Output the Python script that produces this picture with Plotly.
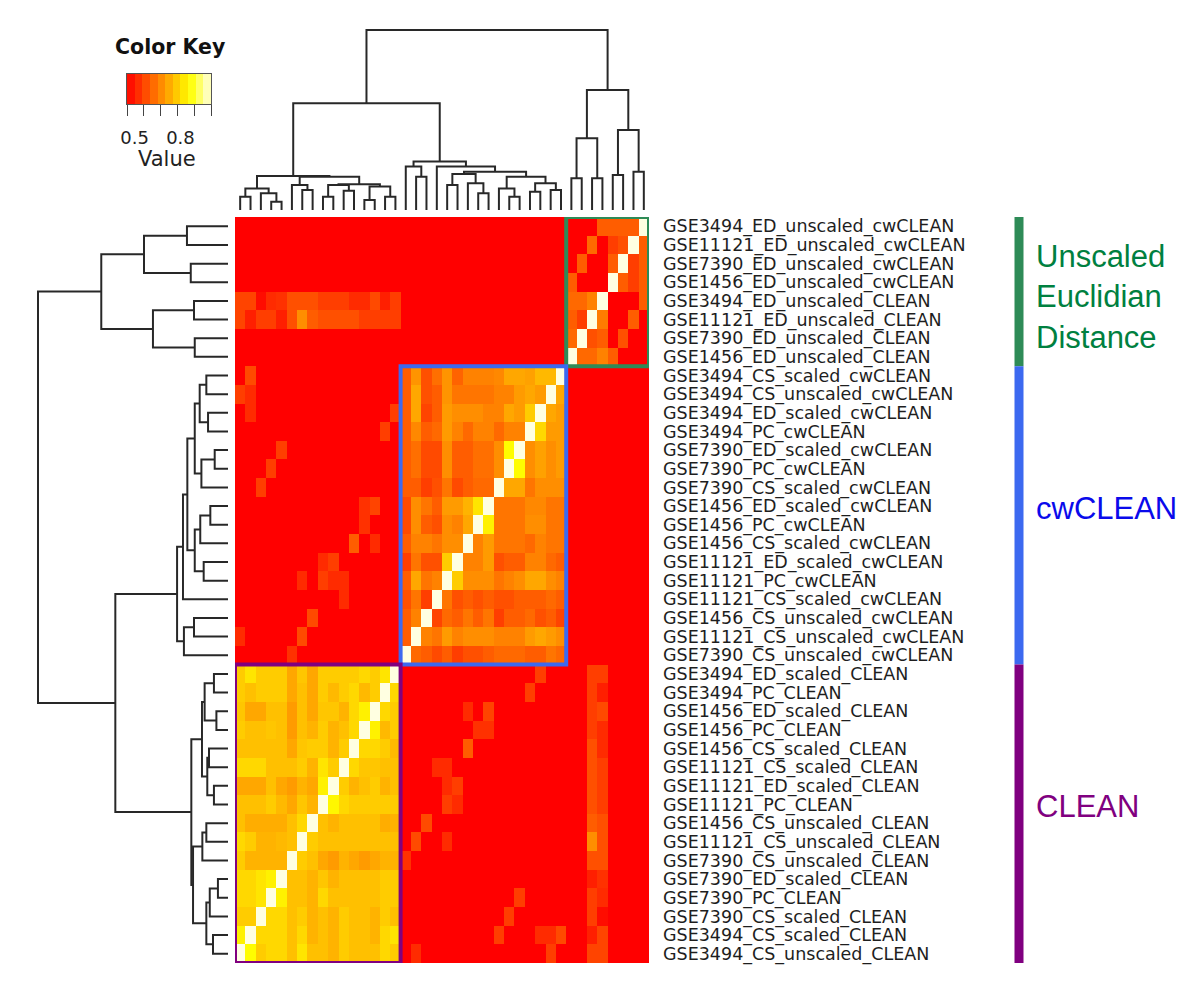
import plotly.graph_objects as go

# ---------------- data ----------------
ROW_LABELS = [
    "GSE3494_ED_unscaled_cwCLEAN", "GSE11121_ED_unscaled_cwCLEAN", "GSE7390_ED_unscaled_cwCLEAN",
    "GSE1456_ED_unscaled_cwCLEAN", "GSE3494_ED_unscaled_CLEAN", "GSE11121_ED_unscaled_CLEAN",
    "GSE7390_ED_unscaled_CLEAN", "GSE1456_ED_unscaled_CLEAN", "GSE3494_CS_scaled_cwCLEAN",
    "GSE3494_CS_unscaled_cwCLEAN", "GSE3494_ED_scaled_cwCLEAN", "GSE3494_PC_cwCLEAN",
    "GSE7390_ED_scaled_cwCLEAN", "GSE7390_PC_cwCLEAN", "GSE7390_CS_scaled_cwCLEAN",
    "GSE1456_ED_scaled_cwCLEAN", "GSE1456_PC_cwCLEAN", "GSE1456_CS_scaled_cwCLEAN",
    "GSE11121_ED_scaled_cwCLEAN", "GSE11121_PC_cwCLEAN", "GSE11121_CS_scaled_cwCLEAN",
    "GSE1456_CS_unscaled_cwCLEAN", "GSE11121_CS_unscaled_cwCLEAN", "GSE7390_CS_unscaled_cwCLEAN",
    "GSE3494_ED_scaled_CLEAN", "GSE3494_PC_CLEAN", "GSE1456_ED_scaled_CLEAN", "GSE1456_PC_CLEAN",
    "GSE1456_CS_scaled_CLEAN", "GSE11121_CS_scaled_CLEAN", "GSE11121_ED_scaled_CLEAN",
    "GSE11121_PC_CLEAN", "GSE1456_CS_unscaled_CLEAN", "GSE11121_CS_unscaled_CLEAN",
    "GSE7390_CS_unscaled_CLEAN", "GSE7390_ED_scaled_CLEAN", "GSE7390_PC_CLEAN",
    "GSE7390_CS_scaled_CLEAN", "GSE3494_CS_scaled_CLEAN", "GSE3494_CS_unscaled_CLEAN",
]

# groups of rows (top to bottom)
GROUP_NAMES = ["Unscaled<br>Euclidian<br>Distance", "cwCLEAN", "CLEAN"]
GROUP_START = [0, 8, 24]
GROUP_SIZE = [8, 16, 16]
GROUP_BAR_COLORS = ["rgb(46,139,87)", "rgb(60,105,240)", "rgb(128,0,128)"]
GROUP_TEXT_COLORS = ["rgb(0,128,64)", "rgb(10,10,235)", "rgb(128,0,128)"]
GROUP_TEXT_SHIFT = [-5, 7, 7]

# correlation values, rows top->bottom (ROW_LABELS order), columns left->right (reverse order)
Z = [
 [.45,.45,.45,.45,.45,.45,.45,.45, .45,.45,.45,.45,.45,.45,.45,.45, .45,.45,.45,.45,.45,.45,.45,.45, .45,.45,.45,.45,.45,.45,.45,.45, .45,.45,.45,.60,.60,.60,.60,1.0],
 [.45,.45,.45,.45,.45,.45,.45,.45, .45,.45,.45,.45,.45,.45,.45,.45, .45,.45,.45,.45,.45,.45,.45,.45, .45,.45,.45,.45,.45,.45,.45,.45, .45,.45,.62,.45,.55,.58,1.0,.60],
 [.45,.45,.45,.45,.45,.45,.45,.45, .45,.45,.45,.45,.45,.45,.45,.45, .45,.45,.45,.45,.45,.45,.45,.45, .45,.45,.45,.45,.45,.45,.45,.45, .45,.60,.45,.45,.60,1.0,.55,.60],
 [.45,.45,.45,.45,.45,.45,.45,.45, .45,.45,.45,.45,.45,.45,.45,.45, .45,.45,.45,.45,.45,.45,.45,.45, .45,.45,.45,.45,.45,.45,.45,.45, .60,.45,.45,.45,1.0,.60,.55,.60],
 [.56,.56,.47,.52,.53,.58,.58,.58, .55,.55,.55,.52,.52,.57,.50,.55, .45,.45,.45,.45,.45,.45,.45,.45, .45,.45,.45,.45,.45,.45,.45,.45, .62,.62,.66,1.0,.45,.45,.45,.60],
 [.56,.50,.55,.55,.50,.58,.68,.60, .58,.58,.58,.58,.55,.55,.55,.55, .45,.45,.45,.45,.45,.45,.45,.45, .45,.45,.45,.45,.45,.45,.45,.45, .60,.55,1.0,.65,.45,.45,.60,.45],
 [.45,.45,.45,.45,.45,.45,.45,.45, .45,.45,.45,.45,.45,.45,.45,.45, .45,.45,.45,.45,.45,.45,.45,.45, .45,.45,.45,.45,.45,.45,.45,.45, .62,1.0,.58,.60,.45,.58,.45,.45],
 [.45,.45,.45,.45,.45,.45,.45,.45, .45,.45,.45,.45,.45,.45,.45,.45, .45,.45,.45,.45,.45,.45,.45,.45, .45,.45,.45,.45,.45,.45,.45,.45, 1.0,.62,.62,.66,.60,.45,.45,.45],
 [.45,.57,.45,.45,.45,.45,.45,.45, .45,.45,.45,.45,.45,.45,.45,.45, .60,.69,.58,.63,.69,.61,.66,.66, .66,.67,.72,.72,.71,.75,.75,1.0, .45,.45,.45,.45,.45,.45,.45,.45],
 [.55,.52,.45,.45,.45,.45,.45,.45, .45,.45,.45,.45,.45,.45,.45,.45, .60,.72,.58,.60,.69,.64,.64,.64, .64,.66,.66,.70,.72,.70,1.0,.72, .45,.45,.45,.45,.45,.45,.45,.45],
 [.45,.52,.45,.45,.45,.45,.45,.45, .45,.45,.45,.45,.45,.45,.45,.55, .60,.72,.56,.60,.70,.68,.68,.68, .66,.66,.72,.70,.78,1.0,.72,.70, .45,.45,.45,.45,.45,.45,.45,.45],
 [.45,.45,.45,.45,.45,.45,.45,.45, .45,.45,.45,.45,.45,.45,.55,.45, .60,.67,.60,.62,.70,.66,.62,.66, .66,.62,.66,.66,1.0,.80,.70,.70, .45,.45,.45,.45,.45,.45,.45,.45],
 [.45,.45,.45,.45,.55,.45,.45,.45, .45,.45,.45,.45,.45,.45,.45,.45, .60,.63,.57,.57,.68,.60,.60,.63, .63,.68,.86,1.0,.68,.71,.68,.70, .45,.45,.45,.45,.45,.45,.45,.45],
 [.45,.45,.45,.55,.45,.45,.45,.45, .45,.45,.45,.45,.45,.45,.45,.45, .60,.63,.57,.57,.68,.60,.60,.63, .63,.68,1.0,.86,.68,.71,.68,.70, .45,.45,.45,.45,.45,.45,.45,.45],
 [.45,.45,.55,.45,.45,.45,.45,.45, .45,.45,.45,.45,.45,.45,.45,.45, .60,.60,.55,.58,.64,.57,.60,.62, .62,1.0,.72,.72,.64,.68,.68,.68, .45,.45,.45,.45,.45,.45,.45,.45],
 [.45,.45,.45,.45,.45,.45,.45,.45, .45,.45,.45,.45,.53,.56,.45,.45, .57,.68,.64,.60,.70,.70,.74,.82, 1.0,.64,.64,.64,.67,.67,.64,.64, .45,.45,.45,.45,.45,.45,.45,.45],
 [.45,.45,.45,.45,.45,.45,.45,.45, .45,.45,.45,.45,.53,.45,.45,.45, .57,.68,.60,.58,.68,.66,.72,1.0, .84,.64,.64,.64,.68,.68,.64,.64, .45,.45,.45,.45,.45,.45,.45,.45],
 [.45,.45,.45,.45,.45,.45,.45,.45, .45,.45,.45,.60,.45,.52,.45,.45, .60,.66,.66,.64,.68,.68,1.0,.66, .70,.64,.64,.64,.62,.66,.64,.64, .45,.45,.45,.45,.45,.45,.45,.45],
 [.45,.45,.45,.45,.45,.45,.45,.45, .52,.55,.45,.45,.45,.45,.45,.45, .55,.64,.58,.58,.78,1.0,.66,.66, .70,.58,.60,.60,.66,.66,.62,.60, .45,.45,.45,.45,.45,.45,.45,.45],
 [.45,.45,.45,.45,.45,.45,.52,.45, .55,.52,.52,.45,.45,.45,.45,.45, .60,.72,.64,.66,1.0,.78,.68,.68, .68,.64,.66,.68,.72,.72,.68,.66, .45,.45,.45,.45,.45,.45,.45,.45],
 [.45,.45,.45,.45,.45,.45,.45,.45, .45,.45,.52,.45,.45,.45,.45,.45, .58,.64,.55,1.0,.64,.58,.60,.58, .60,.58,.58,.60,.60,.60,.62,.60, .45,.45,.45,.45,.45,.45,.45,.45],
 [.45,.45,.45,.45,.45,.45,.45,.57, .45,.45,.45,.45,.45,.45,.45,.45, .60,.66,1.0,.56,.62,.60,.64,.60, .64,.55,.60,.60,.62,.58,.60,.56, .45,.45,.45,.45,.45,.45,.45,.45],
 [.52,.45,.45,.45,.45,.45,.57,.45, .45,.45,.45,.45,.45,.45,.45,.45, .60,1.0,.66,.64,.70,.66,.68,.68, .68,.66,.66,.66,.70,.72,.70,.68, .45,.45,.45,.45,.45,.45,.45,.45],
 [.45,.45,.45,.45,.45,.53,.45,.45, .45,.45,.45,.45,.45,.45,.45,.45, 1.0,.62,.60,.57,.60,.55,.58,.58, .60,.62,.62,.62,.60,.60,.64,.62, .45,.45,.45,.45,.45,.45,.45,.45],
 [.78,.82,.78,.78,.78,.72,.77,.72, .78,.78,.78,.78,.80,.78,.82,1.0, .45,.45,.45,.45,.45,.45,.45,.45, .45,.45,.45,.45,.45,.55,.45,.45, .45,.45,.55,.55,.45,.45,.45,.45],
 [.78,.76,.78,.78,.78,.72,.76,.72, .78,.75,.78,.80,.75,.78,1.0,.80, .45,.45,.45,.45,.45,.45,.45,.45, .45,.45,.45,.45,.55,.45,.45,.45, .45,.45,.55,.50,.45,.45,.45,.45],
 [.77,.72,.72,.76,.76,.70,.76,.72, .77,.77,.74,.80,.84,1.0,.80,.78, .45,.45,.45,.45,.45,.45,.52,.45, .56,.45,.45,.45,.45,.45,.45,.45, .45,.45,.55,.57,.45,.45,.45,.45],
 [.78,.76,.76,.77,.76,.70,.76,.74, .78,.74,.76,.80,1.0,.84,.75,.78, .45,.45,.45,.45,.45,.45,.45,.53, .53,.45,.45,.45,.45,.45,.45,.45, .45,.45,.55,.52,.45,.45,.45,.45],
 [.76,.76,.76,.76,.76,.72,.77,.78, .78,.74,.78,1.0,.80,.80,.78,.75, .45,.45,.45,.45,.45,.45,.60,.45, .45,.45,.45,.45,.45,.45,.45,.45, .45,.45,.58,.52,.45,.45,.45,.45],
 [.80,.80,.80,.76,.76,.76,.78,.74, .82,.78,1.0,.80,.77,.77,.76,.76, .45,.45,.45,.52,.52,.45,.45,.45, .45,.45,.45,.45,.45,.45,.45,.45, .45,.45,.58,.55,.45,.45,.45,.45],
 [.72,.72,.72,.76,.72,.70,.74,.72, .84,1.0,.78,.74,.76,.78,.74,.76, .45,.45,.45,.45,.52,.55,.45,.45, .45,.45,.45,.45,.45,.45,.45,.45, .45,.45,.58,.55,.45,.45,.45,.45],
 [.76,.76,.76,.78,.75,.72,.77,.74, 1.0,.85,.80,.78,.78,.78,.78,.78, .45,.45,.45,.45,.55,.52,.45,.45, .45,.45,.45,.45,.45,.45,.45,.45, .45,.45,.58,.55,.45,.45,.45,.45],
 [.76,.73,.73,.73,.73,.76,.80,1.0, .76,.74,.76,.76,.76,.76,.73,.74, .45,.45,.57,.45,.45,.45,.45,.45, .45,.45,.45,.45,.45,.45,.45,.45, .45,.45,.60,.58,.45,.45,.45,.45],
 [.80,.78,.74,.74,.75,.76,1.0,.78, .76,.76,.76,.76,.76,.76,.76,.76, .45,.57,.45,.45,.52,.45,.45,.45, .45,.45,.45,.45,.45,.45,.45,.45, .45,.45,.68,.58,.45,.45,.45,.45],
 [.78,.74,.74,.74,.74,1.0,.78,.76, .72,.70,.74,.72,.70,.72,.74,.74, .53,.45,.45,.45,.45,.45,.45,.45, .45,.45,.45,.45,.45,.45,.45,.45, .45,.45,.58,.58,.45,.45,.45,.45],
 [.80,.80,.82,.84,1.0,.76,.76,.74, .77,.74,.76,.76,.76,.76,.78,.78, .45,.45,.45,.45,.45,.45,.45,.45, .45,.45,.45,.45,.45,.45,.45,.45, .45,.45,.50,.53,.45,.45,.45,.45],
 [.80,.80,.82,1.0,.84,.76,.76,.74, .80,.76,.76,.76,.76,.76,.78,.78, .45,.45,.45,.45,.45,.45,.45,.45, .45,.45,.45,.55,.45,.45,.45,.45, .45,.45,.55,.52,.45,.45,.45,.45],
 [.78,.78,1.0,.80,.80,.76,.78,.74, .76,.74,.78,.76,.76,.74,.78,.76, .45,.45,.45,.45,.45,.45,.45,.45, .45,.45,.55,.45,.45,.45,.45,.45, .45,.45,.55,.47,.45,.45,.45,.45],
 [.84,1.0,.80,.80,.80,.76,.80,.74, .76,.74,.78,.76,.76,.74,.80,.82, .45,.45,.45,.45,.45,.45,.45,.45, .45,.55,.45,.45,.45,.52,.52,.57, .45,.45,.50,.56,.45,.45,.45,.45],
 [1.0,.86,.78,.80,.80,.76,.82,.76, .76,.74,.78,.76,.76,.76,.80,.78, .45,.52,.45,.45,.45,.45,.45,.45, .45,.45,.45,.45,.45,.45,.55,.45, .45,.45,.56,.56,.45,.45,.45,.45],
]
assert len(Z) == 40 and all(len(r) == 40 for r in Z)

# dendrograms: nested [height, left, right]; leaves are row / column indices
ROW_TREE = [1.0,
    [0.667, [0.442, [0.216, 0, 1], [0.196, 2, 3]], [0.395, [0.179, 4, 5], [0.175, 6, 7]]],
    [0.593,
        [0.268,
            [0.237,
                [0.214,
                    [0.175, [0.149, [0.114, 8, 9], [0.105, 10, 11]], [0.14, [0.07, 12, 13], 14]],
                    [0.175, [0.146, [0.093, 15, 16], 17], [0.128, 18, 19]]],
                20],
            [0.232, [0.179, 21, 22], 23]],
        [0.193,
            [0.137, [0.123, [0.074, 24, 25], [0.061, 26, 27]], [0.109, [0.1, 28, 29], [0.074, 30, 31]]],
            [0.184, [0.135, [0.114, 32, 33], 34],
                    [0.114, [0.096, [0.053, 35, 36], 37], [0.079, 38, 39]]]]]]

COL_TREE = [1.0,
    [0.593,
        [0.189,
            [0.12, [0.074, 0, 1], [0.093, 2, [0.046, 3, 4]]],
            [0.185, [0.139, 5, [0.111, 6, 7]],
                    [0.143, [0.139, [0.074, 8, 9], [0.107, 10, 11]], [0.13, [0.056, 12, 13], [0.074, 14, 15]]]]],
        [0.269,
            [0.241, 16, [0.185, 17, 18]],
            [0.241, 19,
                [0.213,
                    [0.2, [0.139, 20, 21], [0.148, 22, [0.093, 23, 24]]],
                    [0.185, [0.12, 25, [0.074, 26, 27]], [0.148, [0.102, 28, 29], [0.111, 30, 31]]]]]]],
    [0.667, [0.398, [0.176, 32, 33], [0.176, 34, 35]], [0.444, [0.194, 36, 37], [0.213, 38, 39]]]]

KEY_LEVELS = [0.475, 0.525, 0.575, 0.625, 0.675, 0.725, 0.775, 0.825, 0.875, 0.925, 0.975]
KEY_TICK_MARKS = [0.45, 0.56, 0.67, 0.78, 0.89, 1.0]
KEY_LABELS = [0.5, 0.8]
ZMIN, ZMAX = 0.45, 1.0

COLORSCALE = [[0.0, "rgb(255,0,0)"], [0.75, "rgb(255,255,0)"], [1.0, "rgb(255,255,225)"]]

# ---------------- geometry (page pixels) ----------------
PAGE_W, PAGE_H = 1200, 988
BODY = 8                       # default page margin around the figure
W, H = PAGE_W - 2 * BODY, PAGE_H - 2 * BODY
HM_X = (235, 649)
HM_Y = (217, 963)
RD_X = (38, 228)     # row dendrogram: root -> leaves
CD_Y = (30, 210)     # column dendrogram: root -> leaves
KEY_X = (127, 211)
KEY_Y = (74, 104)

def px(x):
    return (x - BODY) / W

def py(y):
    return 1 - (y - BODY) / H

def tree_lines(tree):
    pos, hts = [], []

    def walk(n):
        if isinstance(n, int):
            return float(n), 0.0
        h, a, b = n
        pa, ha = walk(a)
        pb, hb = walk(b)
        pos.extend([pa, pa, pb, pb, None])
        hts.extend([ha, h, h, hb, None])
        return (pa + pb) / 2, h

    walk(tree)
    return pos, hts

N = len(ROW_LABELS)
fig = go.Figure()

fig.add_trace(go.Heatmap(
    z=Z, x=list(range(N)), y=list(range(N)),
    colorscale=COLORSCALE, zmin=ZMIN, zmax=ZMAX, showscale=False,
    hoverinfo="skip", xaxis="x", yaxis="y"))

LINE = dict(color="rgb(40,40,40)", width=2)
rp, rh = tree_lines(ROW_TREE)
fig.add_trace(go.Scatter(x=rh, y=rp, mode="lines", line=LINE, xaxis="x2", yaxis="y", hoverinfo="skip"))
cp, ch = tree_lines(COL_TREE)
fig.add_trace(go.Scatter(x=cp, y=ch, mode="lines", line=LINE, xaxis="x", yaxis="y3", hoverinfo="skip"))

fig.add_trace(go.Heatmap(
    z=[KEY_LEVELS], x=KEY_LEVELS, y=[0], colorscale=COLORSCALE, zmin=ZMIN, zmax=ZMAX,
    showscale=False, hoverinfo="skip", xaxis="x4", yaxis="y4"))

pad = 0.02
rd_len = RD_X[1] - RD_X[0]
cd_len = CD_Y[1] - CD_Y[0]

fig.update_layout(
    width=W, height=H, margin=dict(l=0, r=0, t=0, b=0, autoexpand=False),
    paper_bgcolor="white", plot_bgcolor="white", showlegend=False,
    xaxis=dict(domain=[px(HM_X[0]), px(HM_X[1])], range=[-0.5, N - 0.5], visible=False, anchor="y"),
    yaxis=dict(domain=[py(HM_Y[1]), py(HM_Y[0])], range=[N - 0.5, -0.5], side="right", anchor="x",
               tickmode="array", tickvals=list(range(N)), ticktext=ROW_LABELS, ticks="",
               showgrid=False, zeroline=False, showline=False, ticklabelstandoff=13,
               automargin=False,
               tickfont=dict(family="DejaVu Sans", size=17.5, color="#1e1e1e")),
    xaxis2=dict(domain=[px(RD_X[0] - pad * rd_len), px(RD_X[1] + pad * rd_len)],
                range=[1 + pad, -pad], visible=False, anchor="y"),
    yaxis3=dict(domain=[py(CD_Y[1] + pad * cd_len), py(CD_Y[0] - pad * cd_len)],
                range=[-pad, 1 + pad], visible=False, anchor="x"),
    xaxis4=dict(domain=[px(KEY_X[0]), px(KEY_X[1])], range=[ZMIN, ZMAX], anchor="y4",
                tickmode="array", tickvals=KEY_LABELS, ticktext=[str(v) for v in KEY_LABELS],
                ticks="", ticklabelstandoff=17, showgrid=False, zeroline=False, automargin=False,
                showline=True, mirror=True, linecolor="#555", linewidth=1,
                tickfont=dict(family="DejaVu Sans", size=18, color="#222"),
                minor=dict(tickmode="array", tickvals=KEY_TICK_MARKS, ticks="outside",
                           ticklen=11, tickwidth=1, tickcolor="#444", showgrid=False)),
    yaxis4=dict(domain=[py(KEY_Y[1]), py(KEY_Y[0])], range=[-0.5, 0.5], anchor="x4",
                showticklabels=False, ticks="", showgrid=False, zeroline=False,
                showline=True, mirror=True, linecolor="#555", linewidth=1),
)

shapes = []
annotations = []
for name, s, n, bc, tc, sh in zip(GROUP_NAMES, GROUP_START, GROUP_SIZE, GROUP_BAR_COLORS,
                                  GROUP_TEXT_COLORS, GROUP_TEXT_SHIFT):
    c0 = (N - 1) - (s + n - 1)
    c1 = (N - 1) - s
    shapes.append(dict(type="rect", xref="x", yref="y", x0=c0 - 0.5, x1=c1 + 0.5,
                       y0=s - 0.5, y1=s + n - 0.5, line=dict(color=bc, width=4), layer="above"))
    shapes.append(dict(type="line", xref="paper", yref="y", x0=px(1019), x1=px(1019),
                       y0=s - 0.5, y1=s + n - 0.5, line=dict(color=bc, width=9)))
    annotations.append(dict(xref="paper", yref="y", x=px(1034), y=s + n / 2 - 0.5, yshift=sh,
                            xanchor="left", yanchor="middle", align="left", showarrow=False,
                            text=name, font=dict(family="Liberation Sans", size=31, color=tc)))

annotations.append(dict(xref="paper", yref="paper", x=px(170), y=py(47), xanchor="center",
                        yanchor="middle", showarrow=False, text="<b>Color Key</b>",
                        font=dict(family="DejaVu Sans", size=20.5, color="#111")))
annotations.append(dict(xref="paper", yref="paper", x=px(167), y=py(159), xanchor="center",
                        yanchor="middle", showarrow=False, text="Value",
                        font=dict(family="DejaVu Sans", size=21, color="#222")))

fig.update_layout(shapes=shapes, annotations=annotations)
fig.write_html("out.html")
